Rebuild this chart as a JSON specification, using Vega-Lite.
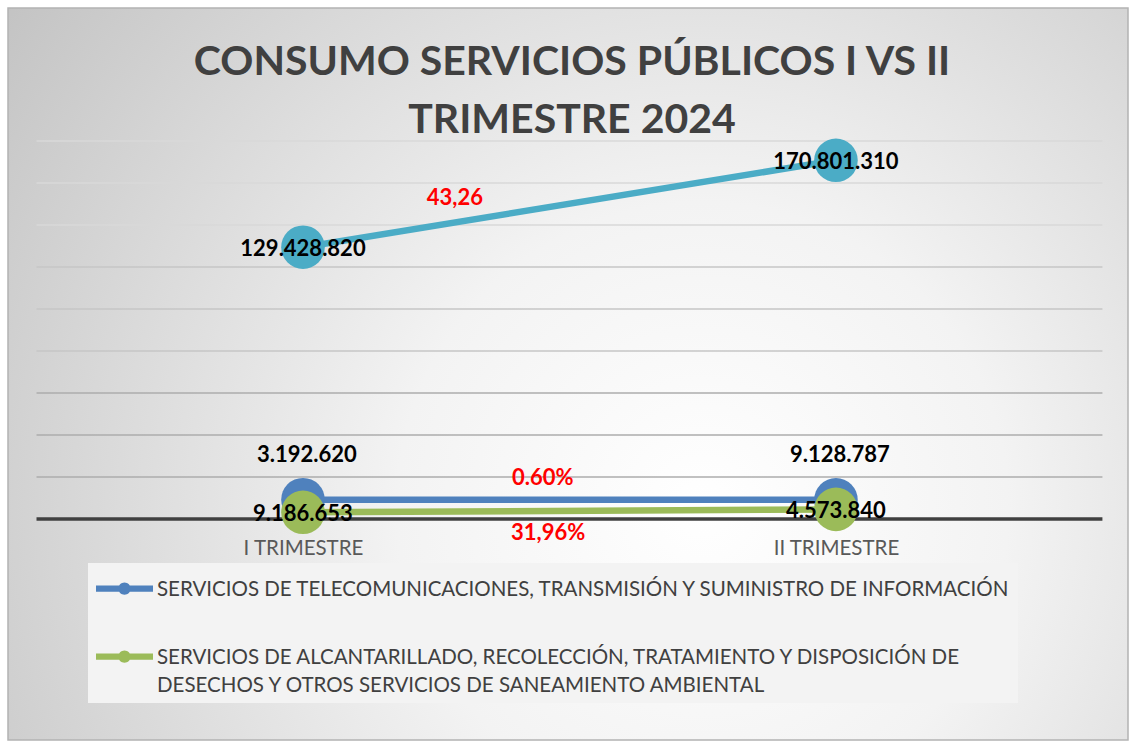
{
  "$schema": "https://vega.github.io/schema/vega-lite/v6.json",
  "width": 1120,
  "height": 732,
  "autosize": {"type": "none"},
  "padding": {"left": 8, "top": 8, "right": 5, "bottom": 3},
  "background": "#ffffff",
  "config": {
    "style": {"guide-label": {"lineHeight": 28}}
  },
  "view": {
    "fill": {
      "gradient": "radial",
      "x1": 0.62, "y1": 0.62, "r1": 0,
      "x2": 0.62, "y2": 0.62, "r2": 0.78,
      "stops": [
        {"offset": 0, "color": "#ffffff"},
        {"offset": 0.35, "color": "#f3f3f3"},
        {"offset": 1, "color": "#c2c2c2"}
      ]
    },
    "stroke": "#b3b3b3",
    "strokeWidth": 1.5
  },
  "title": {
    "text": ["CONSUMO SERVICIOS PÚBLICOS I VS II", "TRIMESTRE 2024"],
    "font": "Lato",
    "fontSize": 41,
    "fontWeight": "bold",
    "color": "#404040",
    "anchor": "middle",
    "frame": "group",
    "offset": -134,
    "lineHeight": 58,
    "dx": 4
  },
  "datasets": {
    "series": [
      {"serie": "OTROS SERVICIOS PÚBLICOS", "t": 0, "valor": 129428820, "etiqueta": "129.428.820"},
      {"serie": "OTROS SERVICIOS PÚBLICOS", "t": 1, "valor": 170801310, "etiqueta": "170.801.310"},
      {"serie": "SERVICIOS DE TELECOMUNICACIONES, TRANSMISIÓN Y SUMINISTRO DE INFORMACIÓN", "t": 0, "valor": 9186653, "etiqueta": "3.192.620"},
      {"serie": "SERVICIOS DE TELECOMUNICACIONES, TRANSMISIÓN Y SUMINISTRO DE INFORMACIÓN", "t": 1, "valor": 9128787, "etiqueta": "9.128.787"},
      {"serie": "SERVICIOS DE ALCANTARILLADO, RECOLECCIÓN, TRATAMIENTO Y DISPOSICIÓN DE DESECHOS Y OTROS SERVICIOS DE SANEAMIENTO AMBIENTAL", "t": 0, "valor": 3192620, "etiqueta": "9.186.653"},
      {"serie": "SERVICIOS DE ALCANTARILLADO, RECOLECCIÓN, TRATAMIENTO Y DISPOSICIÓN DE DESECHOS Y OTROS SERVICIOS DE SANEAMIENTO AMBIENTAL", "t": 1, "valor": 4573840, "etiqueta": "4.573.840"}
    ],
    "grid": [
      {"v": 0}, {"v": 20000000}, {"v": 40000000}, {"v": 60000000}, {"v": 80000000},
      {"v": 100000000}, {"v": 120000000}, {"v": 140000000}, {"v": 160000000}, {"v": 180000000}
    ],
    "notas": [
      {"x": 0.285, "valor": 152900000, "texto": "43,26"},
      {"x": 0.45, "valor": 19500000, "texto": "0.60%"},
      {"x": 0.46, "valor": -6700000, "texto": "31,96%"}
    ]
  },
  "layer": [
    {
      "data": {"name": "grid"},
      "mark": {"type": "rule"},
      "encoding": {
        "y": {"field": "v", "type": "quantitative", "scale": {"domain": [-105240000, 243330000], "nice": false, "zero": false}, "axis": null},
        "x": {"datum": -0.5, "type": "quantitative"},
        "x2": {"datum": 1.5},
        "color": {
          "condition": [
            {"test": "datum.v == 0", "value": "#404040"},
            {"test": "datum.v >= 140000000", "value": "#d9d9d9"},
            {"test": "datum.v >= 80000000", "value": "#c6c6c6"}
          ],
          "value": "#acacac"
        },
        "strokeWidth": {"condition": {"test": "datum.v == 0", "value": 3.5}, "value": 1.5}
      }
    },
    {
      "data": {"name": "series"},
      "mark": {"type": "line", "strokeWidth": 6.5},
      "encoding": {
        "x": {
          "field": "t", "type": "quantitative",
          "scale": {"domain": [-0.5535, 1.548], "nice": false, "zero": false},
          "axis": {
            "values": [0, 1],
            "labelExpr": "datum.value == 0 ? 'I TRIMESTRE' : 'II TRIMESTRE'",
            "offset": -221,
            "domain": false,
            "ticks": false,
            "grid": false,
            "title": null,
            "labelFont": "Lato",
            "labelFontSize": 20.5,
            "labelColor": "#595959",
            "labelPadding": 19
          }
        },
        "y": {"field": "valor", "type": "quantitative"},
        "stroke": {
          "field": "serie", "type": "nominal",
          "scale": {
            "domain": [
              "SERVICIOS DE ALCANTARILLADO, RECOLECCIÓN, TRATAMIENTO Y DISPOSICIÓN DE DESECHOS Y OTROS SERVICIOS DE SANEAMIENTO AMBIENTAL",
              "SERVICIOS DE TELECOMUNICACIONES, TRANSMISIÓN Y SUMINISTRO DE INFORMACIÓN",
              "OTROS SERVICIOS PÚBLICOS"
            ],
            "range": ["#9bbb59", "#4f81bd", "#4bacc6"]
          },
          "legend": null
        }
      }
    },
    {
      "data": {"name": "series"},
      "mark": {"type": "point", "filled": true, "size": 1900, "opacity": 1},
      "encoding": {
        "x": {"field": "t", "type": "quantitative"},
        "y": {"field": "valor", "type": "quantitative"},
        "color": {
          "field": "serie", "type": "nominal",
          "scale": {
            "domain": [
              "OTROS SERVICIOS PÚBLICOS",
              "SERVICIOS DE TELECOMUNICACIONES, TRANSMISIÓN Y SUMINISTRO DE INFORMACIÓN",
              "SERVICIOS DE ALCANTARILLADO, RECOLECCIÓN, TRATAMIENTO Y DISPOSICIÓN DE DESECHOS Y OTROS SERVICIOS DE SANEAMIENTO AMBIENTAL"
            ],
            "range": ["#4bacc6", "#4f81bd", "#9bbb59"]
          },
          "legend": {
            "orient": "none",
            "legendX": 80,
            "legendY": 555,
            "title": null,
            "values": [
              "SERVICIOS DE TELECOMUNICACIONES, TRANSMISIÓN Y SUMINISTRO DE INFORMACIÓN",
              "SERVICIOS DE ALCANTARILLADO, RECOLECCIÓN, TRATAMIENTO Y DISPOSICIÓN DE DESECHOS Y OTROS SERVICIOS DE SANEAMIENTO AMBIENTAL"
            ],
            "labelExpr": "indexof(datum.label, ' DESECHOS') > 0 ? [substring(datum.label, 0, indexof(datum.label, ' DESECHOS')), substring(datum.label, indexof(datum.label, ' DESECHOS') + 1)] : datum.label",
            "symbolType": "M-0.9,0.54L4.8,0.54L4.8,1.18L-0.9,1.18Z M1.33,0.86A0.62,0.62 0 1,1 2.57,0.86A0.62,0.62 0 1,1 1.33,0.86Z",
            "symbolSize": 400,
            "symbolOpacity": 1,
            "labelFont": "Lato",
            "labelFontSize": 20.5,
            "labelColor": "#404040",
            "labelLimit": 2000,
            "labelOffset": 41,
            "labelBaseline": "top",
            "padding": 6,
            "rowPadding": 36,
            "fillColor": "#f3f3f3"
          }
        }
      }
    },
    {
      "data": {"name": "series"},
      "transform": [{"filter": "datum.serie == 'SERVICIOS DE TELECOMUNICACIONES, TRANSMISIÓN Y SUMINISTRO DE INFORMACIÓN'"}],
      "mark": {"type": "text", "font": "Lato", "fontSize": 22, "fontWeight": "bold", "color": "#000000", "dy": -45, "dx": 4},
      "encoding": {
        "x": {"field": "t", "type": "quantitative"},
        "y": {"field": "valor", "type": "quantitative"},
        "text": {"field": "etiqueta"}
      }
    },
    {
      "data": {"name": "series"},
      "transform": [{"filter": "datum.serie != 'SERVICIOS DE TELECOMUNICACIONES, TRANSMISIÓN Y SUMINISTRO DE INFORMACIÓN'"}],
      "mark": {"type": "text", "font": "Lato", "fontSize": 22, "fontWeight": "bold", "color": "#000000", "dy": 2},
      "encoding": {
        "x": {"field": "t", "type": "quantitative"},
        "y": {"field": "valor", "type": "quantitative"},
        "text": {"field": "etiqueta"}
      }
    },
    {
      "data": {"name": "notas"},
      "mark": {"type": "text", "font": "Lato", "fontSize": 22, "fontWeight": "bold", "color": "#ff0000"},
      "encoding": {
        "x": {"field": "x", "type": "quantitative"},
        "y": {"field": "valor", "type": "quantitative"},
        "text": {"field": "texto"}
      }
    }
  ]
}
